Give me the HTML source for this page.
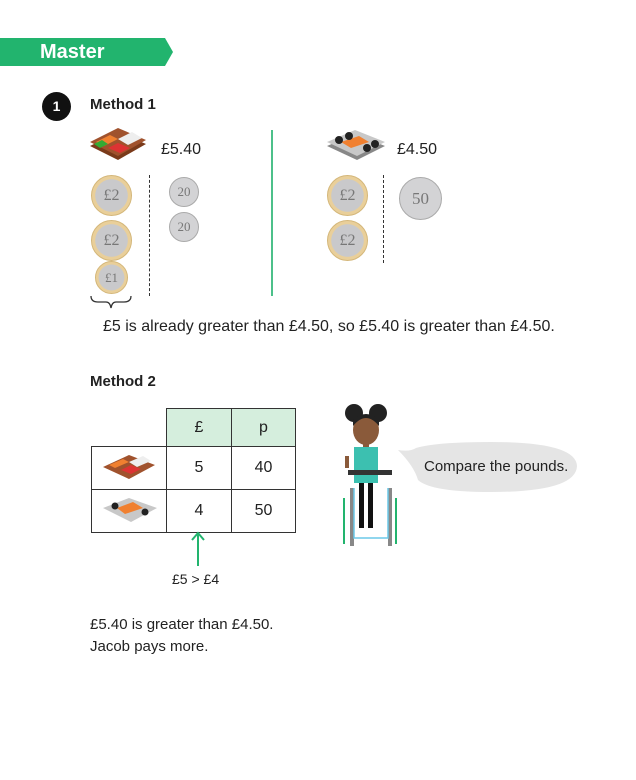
<!DOCTYPE html>
<html><head><style>
body{margin:0;width:636px;height:780px;background:#fff;font-family:"Liberation Sans",sans-serif;color:#222;position:relative;overflow:hidden}
.a{position:absolute;white-space:nowrap}
.coin{position:absolute;border-radius:50%;display:flex;align-items:center;justify-content:center;font-family:"Liberation Serif",serif;color:#777}
.g2{background:radial-gradient(circle,#c9c9cb 0 58%,#e9cf9a 60% 100%);border:1px solid #d4b77a}
.s{background:#d3d3d5;border:1px solid #aaa}
td{border:1.5px solid #333;text-align:center;font-size:16px;padding:0}
</style></head><body>
<svg class="a" style="left:0;top:38px" width="180" height="30"><polygon points="0,0 165,0 173,14 165,28 0,28" fill="#22b46e"/></svg>
<div class="a" style="left:40px;top:41px;font-size:20px;font-weight:bold;color:#fff">Master</div>
<div class="a" style="left:42px;top:92px;width:29px;height:29px;border-radius:50%;background:#111;color:#fff;font-weight:bold;font-size:14px;text-align:center;line-height:29px">1</div>
<div class="a" style="left:90px;top:96px;font-size:15px;font-weight:bold">Method 1</div>

<svg class="a" style="left:88px;top:128px" width="62" height="38"><polygon points="2,18 30,4 58,16 30,32" fill="#7a3a1a"/><polygon points="2,14 30,0 58,12 30,28" fill="#a0522d"/><polygon points="8,14 22,7 30,11 16,18" fill="#f08030"/><polygon points="30,11 44,4 54,10 40,17" fill="#eee"/><polygon points="20,20 30,15 42,20 32,25" fill="#d33"/><polygon points="6,16 14,12 20,16 12,20" fill="#3a3"/></svg>
<div class="a" style="left:161px;top:141px;font-size:16px">£5.40</div>
<svg class="a" style="left:325px;top:128px" width="64" height="38"><polygon points="2,18 30,6 60,18 32,32" fill="#888"/><polygon points="2,14 30,2 60,14 32,28" fill="#c8c8c8"/><polygon points="16,14 34,8 44,14 26,20" fill="#f08030"/><circle cx="14" cy="12" r="4" fill="#222"/><circle cx="24" cy="8" r="4" fill="#222"/><circle cx="42" cy="20" r="4" fill="#222"/><circle cx="50" cy="16" r="4" fill="#222"/></svg>
<div class="a" style="left:397px;top:141px;font-size:16px">£4.50</div>

<div class="coin g2" style="left:91px;top:175px;width:39px;height:39px;font-size:16px">£2</div>
<div class="coin g2" style="left:91px;top:220px;width:39px;height:39px;font-size:16px">£2</div>
<div class="coin g2" style="left:95px;top:261px;width:31px;height:31px;font-size:13px">£1</div>
<div class="a" style="left:149px;top:175px;height:121px;border-left:1.5px dashed #333"></div>
<div class="coin s" style="left:169px;top:177px;width:28px;height:28px;font-size:13px">20</div>
<div class="coin s" style="left:169px;top:212px;width:28px;height:28px;font-size:13px">20</div>
<div class="a" style="left:271px;top:130px;width:2px;height:166px;background:#4cc08a"></div>
<div class="coin g2" style="left:327px;top:175px;width:39px;height:39px;font-size:16px">£2</div>
<div class="coin g2" style="left:327px;top:220px;width:39px;height:39px;font-size:16px">£2</div>
<div class="a" style="left:383px;top:175px;height:88px;border-left:1.5px dashed #333"></div>
<div class="coin s" style="left:399px;top:177px;width:41px;height:41px;font-size:17px">50</div>
<svg class="a" style="left:88px;top:294px" width="48" height="18"><path d="M3,2 Q3,8 10,8 L18,8 Q22,8 23,14 Q24,8 28,8 L36,8 Q43,8 43,2" fill="none" stroke="#333" stroke-width="1.3"/></svg>
<div class="a" style="left:103px;top:318px;font-size:16px">£5 is already greater than £4.50, so £5.40 is greater than £4.50.</div>

<div class="a" style="left:90px;top:373px;font-size:15px;font-weight:bold">Method 2</div>
<table class="a" style="left:91px;top:408px;border-collapse:collapse;table-layout:fixed;width:204px">
<col style="width:75px"><col style="width:65px"><col style="width:64px">
<tr style="height:38px"><td style="border:none"></td><td style="background:#d5eedd">£</td><td style="background:#d5eedd">p</td></tr>
<tr style="height:43px"><td><svg width="60" height="34"><polygon points="4,18 30,6 56,16 30,30" fill="#a0522d"/><polygon points="10,16 24,10 30,13 16,19" fill="#f08030"/><polygon points="30,13 44,7 52,12 38,18" fill="#eee"/><polygon points="22,21 32,16 42,20 32,25" fill="#d33"/></svg></td><td>5</td><td>40</td></tr>
<tr style="height:43px"><td><svg width="60" height="34"><polygon points="4,16 30,6 58,16 32,30" fill="#c8c8c8"/><polygon points="18,16 34,10 44,16 26,22" fill="#f08030"/><circle cx="16" cy="14" r="3.5" fill="#222"/><circle cx="46" cy="20" r="3.5" fill="#222"/></svg></td><td>4</td><td>50</td></tr>
</table>
<svg class="a" style="left:190px;top:530px" width="16" height="38"><path d="M8,36 L8,3 M2,10 L8,3 L14,10" fill="none" stroke="#22b46e" stroke-width="2"/></svg>
<div class="a" style="left:172px;top:571px;font-size:14px">£5 &gt; £4</div>

<svg class="a" style="left:338px;top:400px" width="70" height="150">
<circle cx="16" cy="13" r="9" fill="#222"/><circle cx="40" cy="13" r="9" fill="#222"/>
<ellipse cx="28" cy="30" rx="13" ry="15" fill="#8a5a3a"/><path d="M15,26 Q28,10 41,26 L41,20 Q28,8 15,20Z" fill="#222"/>
<rect x="25" y="43" width="6" height="6" fill="#8a5a3a"/>
<rect x="16" y="47" width="24" height="36" fill="#3cc0b0"/>
<rect x="10" y="70" width="44" height="5" fill="#333"/>
<rect x="21" y="83" width="5" height="45" fill="#111"/><rect x="30" y="83" width="5" height="45" fill="#111"/>
<rect x="12" y="88" width="4" height="58" fill="#888"/><rect x="50" y="88" width="4" height="58" fill="#888"/>
<rect x="5" y="98" width="2" height="46" fill="#22b46e"/><rect x="57" y="98" width="2" height="46" fill="#22b46e"/>
<path d="M16,88 L16,138 L50,138 L50,88" fill="none" stroke="#6cc8e8" stroke-width="1.5"/>
<rect x="7" y="56" width="4" height="12" fill="#8a5a3a"/>
</svg>
<svg class="a" style="left:396px;top:440px" width="186" height="56"><path d="M20,8 Q40,2 95,2 Q180,2 181,26 Q180,52 95,52 Q35,52 22,40 Q18,26 2,10 Q14,12 20,8Z" fill="#e5e5e5"/></svg>
<div class="a" style="left:424px;top:458px;font-size:15px">Compare the pounds.</div>

<div class="a" style="left:90px;top:614px;font-size:15px;line-height:22px">£5.40 is greater than £4.50.<br>Jacob pays more.</div>
</body></html>
